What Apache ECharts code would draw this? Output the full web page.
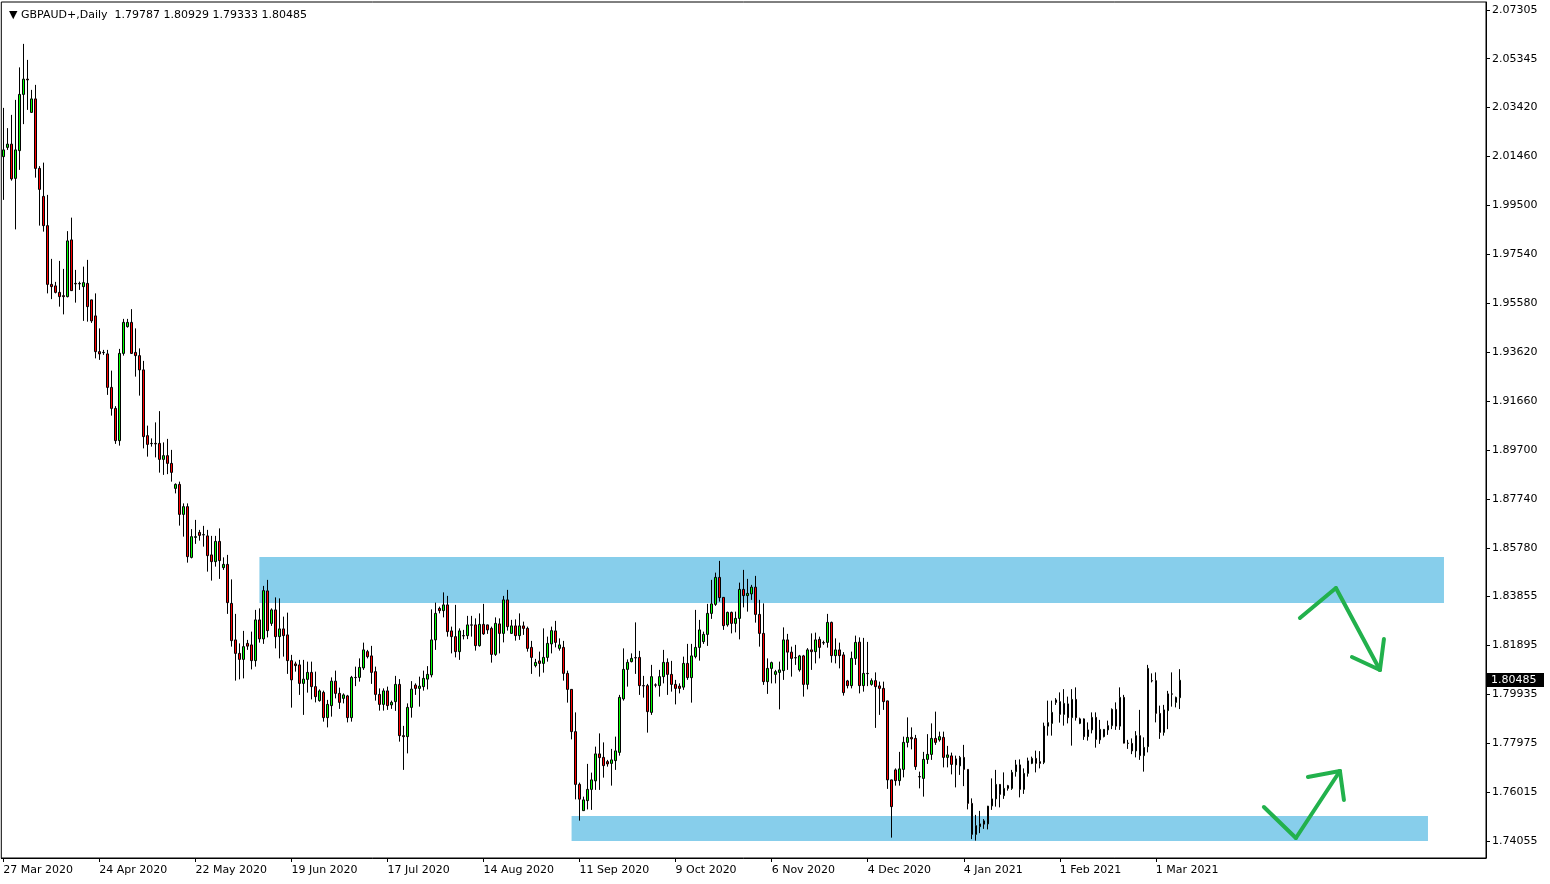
<!DOCTYPE html>
<html>
<head>
<meta charset="utf-8">
<style>
html,body{margin:0;padding:0;background:#fff;}
#chart{width:1550px;height:884px;}
</style>
<script src="https://cdn.jsdelivr.net/npm/echarts@6.0.0/dist/echarts.min.js"></script>
</head>
<body>
<div id="chart"></div>
<script>
// ---- DATA (GBPAUD+ Daily) ----
const symbolTitle = 'GBPAUD+,Daily';
const opens = [2.0143,2.0180,2.0193,2.0056,2.0167,2.0392,2.0453,2.0320,2.0374,2.0096,1.9984,1.9867,1.9632,1.9626,1.9600,1.9587,1.9583,1.9810,1.9636,1.9636,1.9623,1.9636,1.9570,1.9506,1.9363,1.9360,1.9354,1.9220,1.9136,1.9007,1.9356,1.9463,1.9480,1.9360,1.9347,1.9290,1.9027,1.8996,1.8996,1.8996,1.8932,1.8947,1.8916,1.8816,1.8832,1.8712,1.8743,1.8540,1.8620,1.8640,1.8630,1.8626,1.8550,1.8523,1.8604,1.8499,1.8512,1.8356,1.8210,1.8156,1.8132,1.8196,1.8190,1.8127,1.8290,1.8214,1.8406,1.8276,1.8330,1.8223,1.8254,1.8230,1.8127,1.8114,1.8110,1.8036,1.8052,1.8080,1.8023,1.7967,1.8000,1.7899,1.7947,1.8045,1.7996,1.7976,1.7986,1.7899,1.8060,1.8060,1.8098,1.8163,1.8146,1.8083,1.7992,1.7952,1.8006,1.7950,1.7963,1.8032,1.7827,1.7823,1.7940,1.8029,1.8016,1.8023,1.8053,1.8070,1.8210,1.8336,1.8327,1.8350,1.8246,1.8223,1.8163,1.8227,1.8227,1.8270,1.8270,1.8187,1.8272,1.8270,1.8256,1.8152,1.8274,1.8236,1.8370,1.8236,1.8266,1.8227,1.8266,1.8256,1.8180,1.8107,1.8126,1.8116,1.8140,1.8194,1.8246,1.8176,1.8180,1.8076,1.8012,1.7843,1.7632,1.7527,1.7567,1.7612,1.7646,1.7754,1.7740,1.7723,1.7716,1.7727,1.7760,1.7974,1.8092,1.8123,1.8139,1.8140,1.8027,1.8027,1.7920,1.8030,1.8027,1.8063,1.8120,1.8072,1.8032,1.8025,1.8021,1.8116,1.8059,1.8143,1.8180,1.8203,1.8232,1.8316,1.8352,1.8460,1.8380,1.8270,1.8320,1.8276,1.8296,1.8412,1.8387,1.8394,1.8421,1.8312,1.8236,1.8043,1.8096,1.8072,1.8080,1.8087,1.8210,1.8161,1.8139,1.8090,1.8146,1.8032,1.8170,1.8163,1.8212,1.8199,1.8200,1.8280,1.8147,1.8170,1.8150,1.8046,1.8027,1.8136,1.8201,1.8027,1.8076,1.8032,1.8047,1.8026,1.8016,1.7966,1.7650,1.7690,1.7647,1.7692,1.7800,1.7820,1.7816,1.7663,1.7656,1.7732,1.7752,1.7816,1.7810,1.7820,1.7740,1.7746,1.7710,1.7706,1.7740,1.7692,1.7556,1.7432,1.7463,1.7486,1.7474,1.7546,1.7574,1.7632,1.7587,1.7627,1.7616,1.7683,1.7710,1.7612,1.7676,1.7716,1.7736,1.7723,1.7720,1.7865,1.7876,1.7970,1.7963,1.7912,1.7954,1.7899,1.7972,1.7876,1.7894,1.7823,1.7850,1.7900,1.7810,1.7823,1.7850,1.7867,1.7932,1.7865,1.7980,1.7796,1.7796,1.7766,1.7827,1.7747,1.7783,1.8047,1.8047,1.7916,1.7840,1.7927,1.7994,1.7960,1.79787];
const highs = [2.0338,2.0257,2.0310,2.0370,2.0500,2.0594,2.0530,2.0410,2.0430,2.0105,2.0119,1.9990,1.9734,1.9642,1.9726,1.9694,1.9845,1.9899,1.9690,1.9643,1.9703,1.9730,1.9571,1.9596,1.9456,1.9370,1.9370,1.9287,1.9145,1.9374,1.9494,1.9494,1.9533,1.9456,1.9376,1.9326,1.9067,1.9016,1.9080,1.9125,1.9000,1.9014,1.8970,1.8836,1.8843,1.8756,1.8756,1.8653,1.8690,1.8650,1.8666,1.8650,1.8626,1.8626,1.8656,1.8540,1.8550,1.8452,1.8314,1.8196,1.8246,1.8210,1.8243,1.8330,1.8336,1.8426,1.8450,1.8336,1.8380,1.8376,1.8303,1.8319,1.8150,1.8123,1.8130,1.8130,1.8123,1.8123,1.8083,1.8012,1.8007,1.7970,1.8060,1.8087,1.8019,1.7996,1.7990,1.8066,1.8103,1.8136,1.8199,1.8170,1.8186,1.8103,1.8016,1.8016,1.8023,1.7967,1.8066,1.8053,1.7866,1.7956,1.8045,1.8036,1.8063,1.8087,1.8105,1.8332,1.8359,1.8343,1.8400,1.8386,1.8263,1.8350,1.8256,1.8250,1.8306,1.8306,1.8296,1.8316,1.8354,1.8271,1.8263,1.8300,1.8296,1.8386,1.8410,1.8290,1.8292,1.8316,1.8283,1.8263,1.8206,1.8134,1.8163,1.8256,1.8223,1.8263,1.8286,1.8216,1.8206,1.8087,1.8013,1.7920,1.7639,1.7583,1.7714,1.7679,1.7783,1.7836,1.7800,1.7730,1.7774,1.7823,1.7990,1.8176,1.8132,1.8156,1.8280,1.8166,1.8066,1.8034,1.8110,1.8036,1.8090,1.8170,1.8136,1.8126,1.8050,1.8036,1.8143,1.8194,1.8194,1.8330,1.8290,1.8243,1.8354,1.8450,1.8479,1.8526,1.8381,1.8323,1.8323,1.8323,1.8439,1.8490,1.8454,1.8430,1.8466,1.8370,1.8356,1.8136,1.8123,1.8090,1.8123,1.8260,1.8234,1.8183,1.8190,1.8150,1.8150,1.8177,1.8236,1.8239,1.8223,1.8207,1.8314,1.8283,1.8216,1.8199,1.8161,1.8050,1.8163,1.8227,1.8220,1.8218,1.8202,1.8056,1.8080,1.8043,1.8043,1.7967,1.7651,1.7696,1.7762,1.7823,1.7900,1.7860,1.7830,1.7683,1.7762,1.7833,1.7876,1.7923,1.7843,1.7843,1.7786,1.7759,1.7747,1.7746,1.7790,1.7693,1.7576,1.7510,1.7526,1.7493,1.7546,1.7656,1.7690,1.7633,1.7680,1.7630,1.7690,1.7730,1.7732,1.7696,1.7739,1.7743,1.7767,1.7765,1.7879,1.7967,1.7967,1.7977,1.8000,1.8013,1.7983,1.8013,1.8020,1.7899,1.7896,1.7880,1.7920,1.7920,1.7890,1.7853,1.7887,1.7936,1.7960,1.8020,1.7990,1.7810,1.7816,1.7845,1.7930,1.7820,1.8110,1.8076,1.8080,1.7947,1.7950,1.8006,1.8080,1.7983,1.80929];
const lows = [1.9970,2.0170,2.0047,1.9852,2.0090,2.0273,2.0330,2.0318,2.0059,1.9867,1.9843,1.9596,1.9573,1.9596,1.9543,1.9512,1.9580,1.9606,1.9559,1.9610,1.9486,1.9483,1.9478,1.9336,1.9330,1.9350,1.9190,1.9107,1.8994,1.8987,1.9347,1.9459,1.9354,1.9263,1.9187,1.8976,1.8943,1.8983,1.8940,1.8879,1.8870,1.8873,1.8843,1.8796,1.8667,1.8623,1.8519,1.8536,1.8594,1.8607,1.8583,1.8483,1.8447,1.8503,1.8454,1.8490,1.8314,1.8183,1.8047,1.8052,1.8056,1.8170,1.8092,1.8103,1.8199,1.8194,1.8220,1.8266,1.8176,1.8136,1.8143,1.8074,1.7939,1.8083,1.7990,1.7910,1.7999,1.7972,1.7960,1.7963,1.7883,1.7860,1.7903,1.7976,1.7934,1.7956,1.7880,1.7883,1.8025,1.8043,1.8090,1.8136,1.8034,1.7967,1.7927,1.7927,1.7930,1.7934,1.7926,1.7803,1.7690,1.7756,1.7899,1.7990,1.7943,1.8007,1.8012,1.8060,1.8170,1.8316,1.8300,1.8223,1.8156,1.8140,1.8130,1.8212,1.8213,1.8223,1.8167,1.8183,1.8230,1.8234,1.8119,1.8146,1.8156,1.8200,1.8247,1.8234,1.8207,1.8210,1.8230,1.8163,1.8074,1.8100,1.8063,1.8079,1.8123,1.8156,1.8180,1.8167,1.8047,1.7959,1.7812,1.7572,1.7487,1.7526,1.7532,1.7530,1.7610,1.7610,1.7659,1.7703,1.7627,1.7690,1.7747,1.7967,1.8023,1.8120,1.8074,1.7990,1.7979,1.7839,1.7910,1.8020,1.7983,1.8036,1.7990,1.8003,1.7952,1.7996,1.8010,1.8050,1.7959,1.8136,1.8127,1.8194,1.8186,1.8294,1.8346,1.8363,1.8250,1.8263,1.8236,1.8240,1.8212,1.8340,1.8323,1.8370,1.8279,1.8183,1.8030,1.7994,1.8036,1.8036,1.7932,1.8050,1.8090,1.8063,1.8110,1.8083,1.7983,1.8012,1.8090,1.8116,1.8136,1.8190,1.8179,1.8119,1.8116,1.8096,1.7987,1.8016,1.8016,1.8110,1.7996,1.8003,1.8025,1.8027,1.7858,1.7910,1.7930,1.7614,1.7419,1.7627,1.7627,1.7660,1.7780,1.7772,1.7690,1.7616,1.7583,1.7714,1.7730,1.7790,1.7803,1.7700,1.7700,1.7672,1.7620,1.7670,1.7625,1.7532,1.7413,1.7407,1.7437,1.7454,1.7452,1.7530,1.7543,1.7540,1.7574,1.7607,1.7610,1.7663,1.7580,1.7594,1.7663,1.7713,1.7680,1.7696,1.7713,1.7827,1.7827,1.7950,1.7879,1.7867,1.7876,1.7787,1.7887,1.7873,1.7810,1.7807,1.7836,1.7779,1.7794,1.7820,1.7830,1.7853,1.7850,1.7850,1.7796,1.7774,1.7753,1.7740,1.7730,1.7683,1.7760,1.8040,1.7880,1.7814,1.7827,1.7853,1.7943,1.7940,1.79333];
const closes = [2.0170,2.0193,2.0054,2.0170,2.0392,2.0453,2.0450,2.0374,2.0096,2.0012,1.9867,1.9632,1.9623,1.9600,1.9583,1.9583,1.9806,1.9607,1.9634,1.9634,1.9639,1.9543,1.9486,1.9363,1.9354,1.9359,1.9220,1.9136,1.9007,1.9356,1.9480,1.9480,1.9356,1.9347,1.9290,1.9023,1.8992,1.8995,1.8994,1.8932,1.8947,1.8916,1.8880,1.8832,1.8712,1.8743,1.8543,1.8623,1.8623,1.8628,1.8631,1.8547,1.8523,1.8604,1.8527,1.8512,1.8359,1.8207,1.8156,1.8132,1.8183,1.8185,1.8127,1.8290,1.8214,1.8407,1.8247,1.8330,1.8223,1.8254,1.8227,1.8127,1.8050,1.8107,1.8036,1.8053,1.8080,1.8023,1.7983,1.8006,1.7899,1.7952,1.8045,1.7996,1.7960,1.7990,1.7899,1.8060,1.8059,1.8100,1.8170,1.8143,1.8080,1.7992,1.7952,1.8006,1.7947,1.7960,1.8032,1.7827,1.7823,1.7940,1.8013,1.8016,1.8025,1.8056,1.8072,1.8210,1.8316,1.8327,1.8350,1.8243,1.8223,1.8163,1.8246,1.8226,1.8270,1.8269,1.8187,1.8272,1.8234,1.8250,1.8152,1.8276,1.8236,1.8370,1.8263,1.8266,1.8227,1.8266,1.8256,1.8176,1.8140,1.8120,1.8116,1.8140,1.8196,1.8247,1.8200,1.8190,1.8076,1.8012,1.7843,1.7632,1.7573,1.7570,1.7612,1.7650,1.7754,1.7739,1.7707,1.7714,1.7730,1.7766,1.7980,1.8092,1.8120,1.8136,1.8138,1.8027,1.8026,1.7923,1.8063,1.8029,1.8063,1.8120,1.8072,1.8032,1.8016,1.8016,1.8116,1.8059,1.8146,1.8180,1.8250,1.8232,1.8316,1.8354,1.8460,1.8379,1.8267,1.8320,1.8276,1.8296,1.8412,1.8387,1.8396,1.8421,1.8312,1.8236,1.8043,1.8096,1.8119,1.8083,1.8090,1.8210,1.8161,1.8136,1.8138,1.8146,1.8032,1.8170,1.8163,1.8210,1.8180,1.8198,1.8280,1.8147,1.8170,1.8147,1.7999,1.8027,1.8136,1.8200,1.8027,1.8076,1.8075,1.8047,1.8023,1.8016,1.7963,1.7650,1.7543,1.7647,1.7694,1.7800,1.7820,1.7814,1.7703,1.7662,1.7732,1.7752,1.7816,1.7800,1.7823,1.7740,1.7750,1.7712,1.7734,1.7740,1.7692,1.7556,1.7432,1.7467,1.7474,1.7473,1.7545,1.7574,1.7632,1.7592,1.7616,1.7616,1.7680,1.7710,1.7612,1.7676,1.7726,1.7736,1.7716,1.7716,1.7865,1.7879,1.7920,1.7960,1.7912,1.7956,1.7899,1.7972,1.7899,1.7894,1.7823,1.7850,1.7900,1.7812,1.7852,1.7852,1.7867,1.7932,1.7865,1.7980,1.7797,1.7797,1.7766,1.7827,1.7747,1.7780,1.8096,1.8046,1.7916,1.7840,1.7930,1.7994,1.7993,1.7980,1.80485];

// x tick labels (one every 24 bars) and y tick values as printed on the axes
const xTickLabels = ['27 Mar 2020','24 Apr 2020','22 May 2020','19 Jun 2020','17 Jul 2020','14 Aug 2020','11 Sep 2020','9 Oct 2020','6 Nov 2020','4 Dec 2020','4 Jan 2021','1 Feb 2021','1 Mar 2021'];
const yTickValues = [1.74055,1.76015,1.77975,1.79935,1.81895,1.83855,1.85780,1.87740,1.89700,1.91660,1.93620,1.95580,1.97540,1.99500,2.01460,2.03420,2.05345,2.07305];

// shaded zones: [fromBar, toBar, upperPrice, lowerPrice]
const zoneResistance = [64, 360, 1.85415, 1.83575];
const zoneSupport = [142, 356, 1.75055, 1.74055];
// hand-drawn arrows, points as [barIndex, price]
const arrowUpperPath = [[324, 1.82975], [333, 1.84175], [344, 1.80895]];
const arrowUpperHead = [[337, 1.81415], [344, 1.80895], [345, 1.82135]];
const arrowLowerPath = [[315, 1.75415], [323, 1.74175], [334, 1.76855]];
const arrowLowerHead = [[326, 1.76615], [334, 1.76855], [335, 1.75695]];

// ---- categories: trading days (Sun-Fri, holidays skipped), incl. empty future space ----
const TOTAL_SLOTS = 371;
const skipDays = ['2020-12-25', '2021-01-01'];
const monthNames = ['Jan','Feb','Mar','Apr','May','Jun','Jul','Aug','Sep','Oct','Nov','Dec'];
const categories = [];
(function () {
  let t = Date.UTC(2020, 2, 27);
  while (categories.length < TOTAL_SLOTS) {
    const d = new Date(t);
    const iso = d.toISOString().slice(0, 10);
    if (d.getUTCDay() !== 6 && skipDays.indexOf(iso) < 0) {
      categories.push(d.getUTCDate() + ' ' + monthNames[d.getUTCMonth()] + ' ' + d.getUTCFullYear());
    }
    t += 86400000;
  }
})();

const LAST = opens.length - 1;
const candles = opens.map((o, i) => [o, closes[i], lows[i], highs[i]]);
const fmt5 = v => v.toFixed(5);

const FONT = 'DejaVu Sans';
const GREEN = '#22B14C';

function polyToSegments(pts, style) {
  const segs = [];
  for (let i = 0; i < pts.length - 1; i++) {
    segs.push([{ coord: pts[i], lineStyle: style }, { coord: pts[i + 1] }]);
  }
  return segs;
}
const arrowStyle = { color: GREEN, width: 4, type: 'solid', cap: 'round', join: 'round', opacity: 1 };

const chart = echarts.init(document.getElementById('chart'), null, { renderer: 'canvas' });
chart.setOption({
  animation: false,
  backgroundColor: '#ffffff',
  title: {
    text: '\u25BC ' + symbolTitle + '  ' + [opens[LAST], highs[LAST], lows[LAST], closes[LAST]].map(fmt5).join(' '),
    left: 4, top: 5,
    textStyle: { fontFamily: FONT, fontSize: 11, fontWeight: 'normal', color: '#000' }
  },
  grid: {
    left: 1.3, right: 64, top: 2, bottom: 26,
    show: true, borderColor: '#000', borderWidth: 1, backgroundColor: 'transparent'
  },
  xAxis: {
    type: 'category',
    data: categories,
    boundaryGap: true,
    axisLine: { show: true, lineStyle: { color: '#000', width: 1 } },
    axisTick: {
      show: true, alignWithLabel: true, length: 4,
      interval: (i) => i % 24 === 0 && i <= LAST,
      lineStyle: { color: '#000' }
    },
    axisLabel: {
      interval: (i) => i % 24 === 0 && i <= LAST,
      formatter: (v, i) => xTickLabels[i / 24] || v,
      align: 'left', margin: 7,
      color: '#000', fontFamily: FONT, fontSize: 11
    },
    splitLine: { show: false }
  },
  yAxis: {
    type: 'value',
    position: 'right',
    min: 1.73375, max: 2.07615,
    axisLine: { show: true, lineStyle: { color: '#000', width: 1 } },
    axisTick: { show: true, length: 4, customValues: yTickValues, lineStyle: { color: '#000' } },
    axisLabel: {
      customValues: yTickValues,
      formatter: fmt5,
      margin: 6, color: '#000', fontFamily: FONT, fontSize: 11
    },
    splitLine: { show: false }
  },
  series: [{
    type: 'candlestick',
    data: candles,
    barWidth: 2,
    z: 3,
    itemStyle: {
      color: '#00ff00', color0: '#ff0000',
      borderColor: '#000000', borderColor0: '#000000', borderColorDoji: '#000000',
      borderWidth: 1
    },
    markArea: {
      silent: true,
      itemStyle: { color: '#87CEEB', opacity: 1, borderWidth: 0 },
      label: { show: false },
      data: [zoneResistance, zoneSupport].map(z => [{ coord: [z[0], z[2]] }, { coord: [z[1], z[3]] }])
    },
    markLine: {
      silent: true,
      symbol: 'none',
      label: { show: false },
      data: [].concat(
        polyToSegments(arrowUpperPath, arrowStyle),
        polyToSegments(arrowUpperHead, arrowStyle),
        polyToSegments(arrowLowerPath, arrowStyle),
        polyToSegments(arrowLowerHead, arrowStyle)
      )
    }
  }]
});

// current-price tag on the price scale, positioned through the y axis scale
(function () {
  const y = chart.convertToPixel({ yAxisIndex: 0 }, closes[LAST]);
  const gridRight = 1550 - 64;
  chart.setOption({
    graphic: [{
      type: 'group', z: 100,
      children: [
        { type: 'rect', shape: { x: gridRight + 1, y: Math.round(y) - 7, width: 57, height: 14 }, style: { fill: '#000' } },
        { type: 'text', x: gridRight + 5, y: Math.round(y), style: { text: fmt5(closes[LAST]), fill: '#fff', font: '11px "DejaVu Sans"', textVerticalAlign: 'middle', verticalAlign: 'middle' } }
      ]
    }]
  });
})();
</script>
</body>
</html>
